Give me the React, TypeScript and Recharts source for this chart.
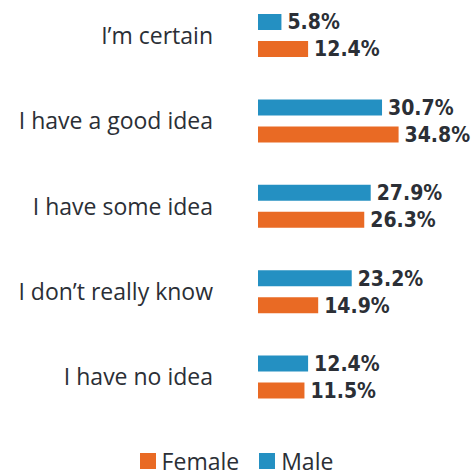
import React from "react";
import { BarChart, Bar, XAxis, YAxis, LabelList, Legend } from "recharts";

const categories = [
  "I\u2019m certain",
  "I have a good idea",
  "I have some idea",
  "I don\u2019t really know",
  "I have no idea",
];
const maleValues = [5.8, 30.7, 27.9, 23.2, 12.4];
const femaleValues = [12.4, 34.8, 26.3, 14.9, 11.5];

const data = categories.map((c, i) => ({
  category: c,
  male: maleValues[i],
  female: femaleValues[i],
}));

const BLUE = "#2490c2";
const ORANGE = "#e96a24";
const TEXT = "#2b2f36";
const CAT_FONT = "'Open Sans', 'Noto Sans', sans-serif";
const NUM_FONT = "'DejaVu Sans Condensed', 'DejaVu Sans', sans-serif";

const legendItems = [
  { name: "Female", color: ORANGE },
  { name: "Male", color: BLUE },
];

const renderLegend = () => (
  <div
    style={{
      display: "flex",
      justifyContent: "center",
      alignItems: "center",
      fontFamily: CAT_FONT,
      fontSize: 23,
      lineHeight: "22px",
      color: TEXT,
      height: 22,
    }}
  >
    {legendItems.map((it, i) => (
      <div
        key={it.name}
        style={{ display: "flex", alignItems: "center", marginLeft: i === 0 ? 0 : 20 }}
      >
        <span
          style={{ display: "inline-block", width: 16, height: 16, background: it.color, marginRight: 6 }}
        />
        <span style={{ lineHeight: "22px" }}>{it.name}</span>
      </div>
    ))}
  </div>
);

export default function App() {
  return (
    <div style={{ position: "absolute", left: 0, top: -7 }}>
      <BarChart
        width={473}
        height={481}
        data={data}
        layout="vertical"
        margin={{ top: 0, right: 13, bottom: 32, left: 0 }}
        barSize={16}
        barGap={11}
      >
        <XAxis type="number" domain={[0, 50]} hide />
        <YAxis
          type="category"
          dataKey="category"
          width={258}
          axisLine={false}
          tickLine={false}
          tickSize={0}
          tickMargin={45}
          tick={{ fill: TEXT, fontSize: 23, fontFamily: CAT_FONT }}
        />
        <Legend
          content={renderLegend}
          wrapperStyle={{ position: "absolute", top: 457, left: 0, width: 473 }}
        />
        <Bar dataKey="male" name="Male" fill={BLUE} isAnimationActive={false}>
          <LabelList
            dataKey="male"
            position="right"
            offset={6}
            formatter={(v: number) => `${v}%`}
            style={{ fill: TEXT, fontSize: 21, fontWeight: 700, fontFamily: NUM_FONT }}
          />
        </Bar>
        <Bar dataKey="female" name="Female" fill={ORANGE} isAnimationActive={false}>
          <LabelList
            dataKey="female"
            position="right"
            offset={6}
            formatter={(v: number) => `${v}%`}
            style={{ fill: TEXT, fontSize: 21, fontWeight: 700, fontFamily: NUM_FONT }}
          />
        </Bar>
      </BarChart>
    </div>
  );
}
